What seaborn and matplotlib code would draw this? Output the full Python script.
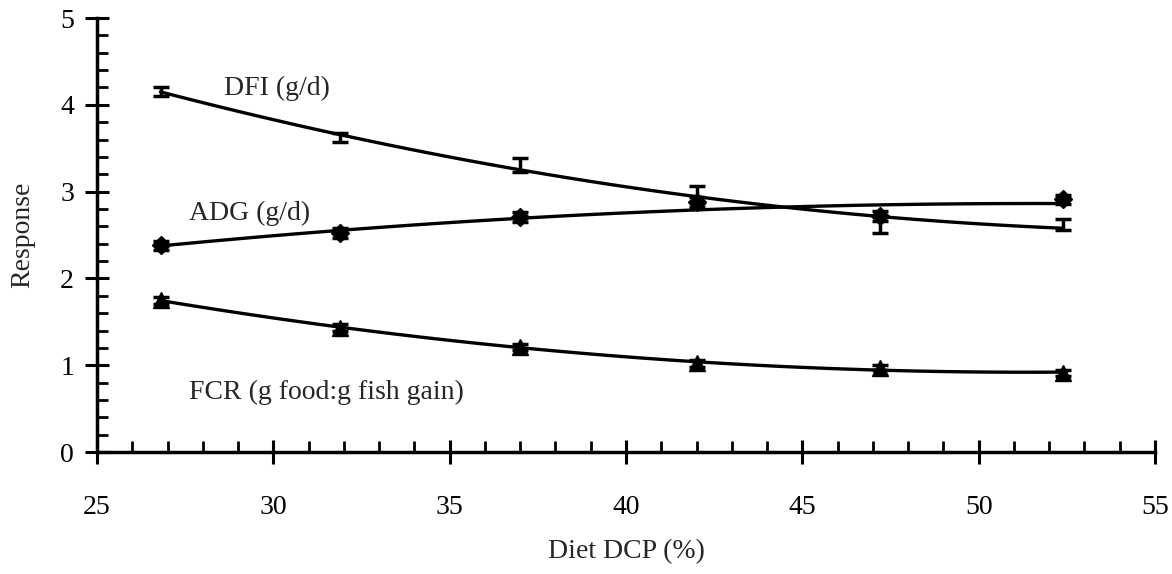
import numpy as np
import pandas as pd
import matplotlib
matplotlib.use("Agg")
import matplotlib.pyplot as plt
import seaborn as sns
from matplotlib.ticker import MultipleLocator

# ---- data ----
dcp = [26.8, 31.9, 37.0, 42.0, 47.2, 52.4]
dfi = [4.15, 3.62, 3.31, 2.97, 2.62, 2.62]
dfi_err = [0.05, 0.05, 0.08, 0.10, 0.10, 0.06]
adg = [2.38, 2.52, 2.71, 2.88, 2.72, 2.91]
adg_err = [0.05, 0.06, 0.06, 0.06, 0.06, 0.05]
fcr = [1.75, 1.43, 1.21, 1.02, 0.97, 0.91]
fcr_err = [0.04, 0.04, 0.04, 0.04, 0.03, 0.03]

series_labels = ["DFI (g/d)", "ADG (g/d)", "FCR (g food:g fish gain)"]
x_label = "Diet DCP (%)"
y_label = "Response"

sns.set_style("ticks")
plt.rcParams["font.family"] = ["Liberation Serif", "DejaVu Serif"]

fig = plt.figure(figsize=(11.72, 5.74), dpi=100)
ax = fig.add_axes([0.0828, 0.2125, 0.9027, 0.7561])

df = pd.DataFrame({"dcp": dcp, "dfi": dfi, "adg": adg, "fcr": fcr})

line_kw = dict(color="black", linewidth=2.4)
for col in ["dfi", "adg", "fcr"]:
    sns.regplot(data=df, x="dcp", y=col, order=2, ci=None, scatter=False,
                line_kws=line_kw, truncate=True, ax=ax)

eb_kw = dict(color="black", ecolor="black", elinewidth=2.5, capsize=6,
             capthick=2.5, linestyle="none")
ax.errorbar(dcp, dfi, yerr=dfi_err, marker=None, **eb_kw)
ax.errorbar(dcp, adg, yerr=adg_err, marker="D", markersize=9, **eb_kw)
ax.errorbar(dcp, fcr, yerr=fcr_err, marker="^", markersize=11, **eb_kw)

fs = 20
ax.text(28.6, 4.19, series_labels[0], fontsize=fs, va="center", ha="left")
ax.text(27.6, 2.75, series_labels[1], fontsize=fs, va="center", ha="left")
ax.text(27.6, 0.69, series_labels[2], fontsize=fs, va="center", ha="left")

ax.set_xlim(25, 55)
ax.set_ylim(0, 5)
ax.xaxis.set_major_locator(MultipleLocator(5))
ax.xaxis.set_minor_locator(MultipleLocator(1))
ax.yaxis.set_major_locator(MultipleLocator(1))
ax.yaxis.set_minor_locator(MultipleLocator(0.2))
ax.tick_params(which="major", direction="inout", length=17, width=2.2,
               colors="black", labelsize=fs, pad=4)
ax.tick_params(axis="x", which="major", pad=22.5)
ax.tick_params(axis="y", which="major", pad=8)
ax.tick_params(which="minor", direction="in", length=8, width=2.0, colors="black")

for s in ["top", "right"]:
    ax.spines[s].set_visible(False)
for s in ["left", "bottom"]:
    ax.spines[s].set_linewidth(2.5)
    ax.spines[s].set_color("black")

ax.set_xlabel(x_label, fontsize=fs, labelpad=14)
ax.set_ylabel(y_label, fontsize=fs, labelpad=18)

fig.savefig("out.png", dpi=100, facecolor="white")
